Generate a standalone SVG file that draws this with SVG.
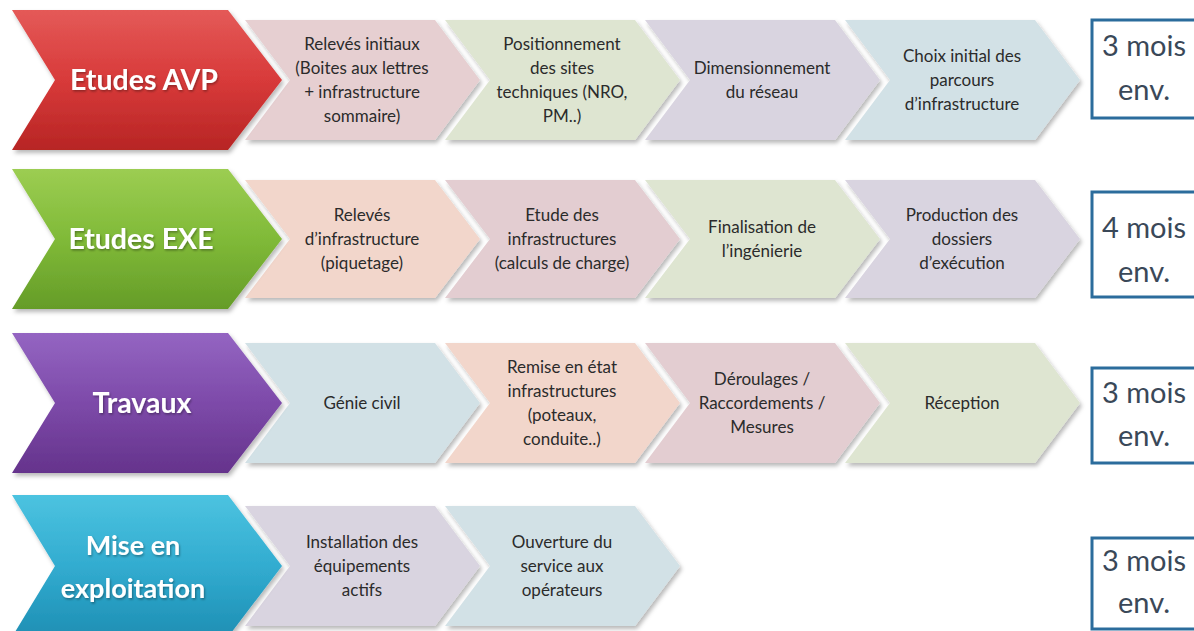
<svg xmlns="http://www.w3.org/2000/svg" width="1194" height="631" viewBox="0 0 1194 631">
<defs>
<filter id="sh" x="-5%" y="-10%" width="115%" height="130%">
<feDropShadow dx="2" dy="3" stdDeviation="2" flood-color="#000" flood-opacity="0.28"/>
</filter>
<filter id="tsh" x="-10%" y="-20%" width="120%" height="150%">
<feDropShadow dx="1" dy="1.5" stdDeviation="1" flood-color="#000" flood-opacity="0.35"/>
</filter>
<linearGradient id="gRed" x1="0" y1="0" x2="0" y2="1">
<stop offset="0" stop-color="#e45a58"/><stop offset="0.5" stop-color="#d83a3a"/><stop offset="1" stop-color="#b72524"/>
</linearGradient>
<linearGradient id="gGreen" x1="0" y1="0" x2="0" y2="1">
<stop offset="0" stop-color="#9ccd52"/><stop offset="0.5" stop-color="#80ba38"/><stop offset="1" stop-color="#659c28"/>
</linearGradient>
<linearGradient id="gPurple" x1="0" y1="0" x2="0" y2="1">
<stop offset="0" stop-color="#9465c2"/><stop offset="0.5" stop-color="#7d4aa9"/><stop offset="1" stop-color="#65338c"/>
</linearGradient>
<linearGradient id="gTeal" x1="0" y1="0" x2="0" y2="1">
<stop offset="0" stop-color="#4cc3e0"/><stop offset="0.5" stop-color="#32acd0"/><stop offset="1" stop-color="#1e8fb4"/>
</linearGradient>
</defs>
<style>
.big{filter:url(#sh);}
.sm{filter:url(#sh);}
.bt{font-family:Lato,"Open Sans","Liberation Sans",sans-serif;font-weight:bold;font-size:28.5px;fill:#ffffff;text-anchor:middle;filter:url(#tsh);}
.bt2{font-size:27px;}
.st{font-family:Lato,"Open Sans","Liberation Sans",sans-serif;font-size:17px;fill:#2b2b2b;text-anchor:middle;}
.bx{fill:#ffffff;stroke:#2b6c9c;stroke-width:3;}
.xt{font-family:Lato,"Open Sans","Liberation Sans",sans-serif;font-size:29px;fill:#3a4858;text-anchor:middle;}
.pink{fill:#e6cfd1;} .lgreen{fill:#dee5d1;} .lav{fill:#d9d4e0;} .lblue{fill:#d2e1e6;} .peach{fill:#f2d6cb;} .mauve{fill:#e3cdd1;}
</style>

<!-- Row 1 -->
<g id="r1-s1"><polygon class="sm pink" points="245,20 435,20 480,80 435,140 245,140 290,80"/>
<text class="st"><tspan x="362" y="50">Relevés initiaux</tspan><tspan x="362" y="74">(Boites aux lettres</tspan><tspan x="362" y="98">+ infrastructure</tspan><tspan x="362" y="122">sommaire)</tspan></text></g>
<g id="r1-s2"><polygon class="sm lgreen" points="445,20 635,20 680,80 635,140 445,140 490,80"/>
<text class="st"><tspan x="562" y="50">Positionnement</tspan><tspan x="562" y="74">des sites</tspan><tspan x="562" y="98">techniques (NRO,</tspan><tspan x="562" y="122">PM..)</tspan></text></g>
<g id="r1-s3"><polygon class="sm lav" points="645,20 835,20 880,80 835,140 645,140 690,80"/>
<text class="st"><tspan x="762" y="74">Dimensionnement</tspan><tspan x="762" y="98">du réseau</tspan></text></g>
<g id="r1-s4"><polygon class="sm lblue" points="845,20 1035,20 1080,80 1035,140 845,140 890,80"/>
<text class="st"><tspan x="962" y="62">Choix initial des</tspan><tspan x="962" y="86">parcours</tspan><tspan x="962" y="110">d’infrastructure</tspan></text></g>
<g id="r1-main"><polygon class="big" fill="url(#gRed)" points="12,10 228,10 282,80 228,150 12,150 55,80"/>
<text class="bt" x="144" y="90">Etudes AVP</text></g>
<g id="r1-dur"><rect class="bx" x="1092" y="20" width="110" height="98"/>
<text class="xt"><tspan x="1144" y="56">3 mois</tspan><tspan x="1144" y="100">env.</tspan></text></g>

<!-- Row 2 -->
<g id="r2-s1"><polygon class="sm peach" points="245,180 435,180 480,239 435,298 245,298 290,239"/>
<text class="st"><tspan x="362" y="221">Relevés</tspan><tspan x="362" y="245">d’infrastructure</tspan><tspan x="362" y="269">(piquetage)</tspan></text></g>
<g id="r2-s2"><polygon class="sm mauve" points="445,180 635,180 680,239 635,298 445,298 490,239"/>
<text class="st"><tspan x="562" y="221">Etude des</tspan><tspan x="562" y="245">infrastructures</tspan><tspan x="562" y="269">(calculs de charge)</tspan></text></g>
<g id="r2-s3"><polygon class="sm lgreen" points="645,180 835,180 880,239 835,298 645,298 690,239"/>
<text class="st"><tspan x="762" y="233">Finalisation de</tspan><tspan x="762" y="257">l’ingénierie</tspan></text></g>
<g id="r2-s4"><polygon class="sm lav" points="845,180 1035,180 1080,239 1035,298 845,298 890,239"/>
<text class="st"><tspan x="962" y="221">Production des</tspan><tspan x="962" y="245">dossiers</tspan><tspan x="962" y="269">d’exécution</tspan></text></g>
<g id="r2-main"><polygon class="big" fill="url(#gGreen)" points="12,169 228,169 282,239 228,309 12,309 55,239"/>
<text class="bt" x="141" y="249">Etudes EXE</text></g>
<g id="r2-dur"><rect class="bx" x="1092" y="192" width="110" height="105"/>
<text class="xt"><tspan x="1144" y="238">4 mois</tspan><tspan x="1144" y="282">env.</tspan></text></g>

<!-- Row 3 -->
<g id="r3-s1"><polygon class="sm lblue" points="245,343 435,343 480,403 435,463 245,463 290,403"/>
<text class="st" x="362" y="409">Génie civil</text></g>
<g id="r3-s2"><polygon class="sm peach" points="445,343 635,343 680,403 635,463 445,463 490,403"/>
<text class="st"><tspan x="562" y="373">Remise en état</tspan><tspan x="562" y="397">infrastructures</tspan><tspan x="562" y="421">(poteaux,</tspan><tspan x="562" y="445">conduite..)</tspan></text></g>
<g id="r3-s3"><polygon class="sm mauve" points="645,343 835,343 880,403 835,463 645,463 690,403"/>
<text class="st"><tspan x="762" y="385">Déroulages /</tspan><tspan x="762" y="409">Raccordements /</tspan><tspan x="762" y="433">Mesures</tspan></text></g>
<g id="r3-s4"><polygon class="sm lgreen" points="845,343 1035,343 1080,403 1035,463 845,463 890,403"/>
<text class="st" x="962" y="409">Réception</text></g>
<g id="r3-main"><polygon class="big" fill="url(#gPurple)" points="12,333 228,333 282,403 228,473 12,473 55,403"/>
<text class="bt" x="142" y="413">Travaux</text></g>
<g id="r3-dur"><rect class="bx" x="1092" y="368" width="110" height="95"/>
<text class="xt"><tspan x="1144" y="403">3 mois</tspan><tspan x="1144" y="446">env.</tspan></text></g>

<!-- Row 4 -->
<g id="r4-s1"><polygon class="sm lav" points="245,506 435,506 480,566 435,626 245,626 290,566"/>
<text class="st"><tspan x="362" y="548">Installation des</tspan><tspan x="362" y="572">équipements</tspan><tspan x="362" y="596">actifs</tspan></text></g>
<g id="r4-s2"><polygon class="sm lblue" points="445,506 635,506 680,566 635,626 445,626 490,566"/>
<text class="st"><tspan x="562" y="548">Ouverture du</tspan><tspan x="562" y="572">service aux</tspan><tspan x="562" y="596">opérateurs</tspan></text></g>
<g id="r4-main"><polygon class="big" fill="url(#gTeal)" points="12,495 228,495 282,566 228,637 12,637 55,566"/>
<text class="bt bt2"><tspan x="133" y="555">Mise en</tspan><tspan x="133" y="598">exploitation</tspan></text></g>
<g id="r4-dur"><rect class="bx" x="1092" y="538" width="110" height="91"/>
<text class="xt"><tspan x="1144" y="571">3 mois</tspan><tspan x="1144" y="613">env.</tspan></text></g>
</svg>
